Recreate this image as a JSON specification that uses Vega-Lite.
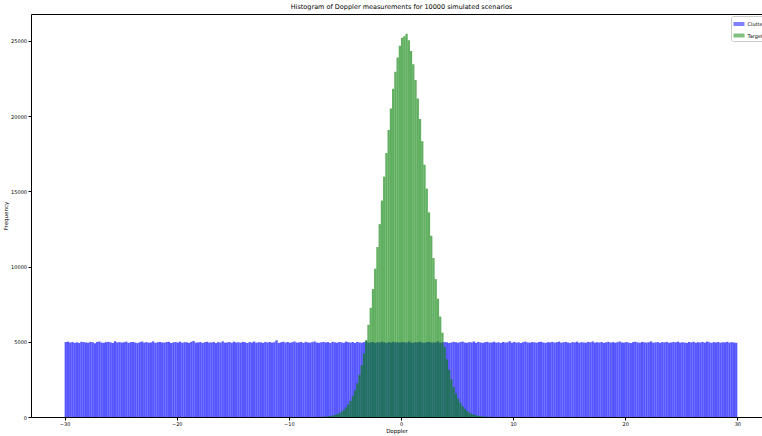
{
"$schema": "https://vega.github.io/schema/vega-lite/v6.json",
"width": 731, "height": 403,
"autosize": {"type": "none"},
"padding": {"left": 31, "top": 14, "right": 0, "bottom": 19},
"config": {
  "font": "DejaVu Sans",
  "view": {"stroke": "black", "strokeWidth": 1},
  "axis": {"grid": false, "domain": false, "tickColor": "black", "tickSize": 3, "labelFontSize": 5, "labelColor": "black", "titleFontSize": 5.5, "titleFontWeight": "normal", "titleColor": "black", "labelPadding": 1.5}
},
"title": {"text": "Histogram of Doppler measurements for 10000 simulated scenarios", "fontSize": 6.5, "fontWeight": "normal", "color": "black", "anchor": "middle", "offset": 4, "dx": 5},
"datasets": {
"clutter": [
{"a":-30,"b":-29.8,"n":4985},{"a":-29.8,"b":-29.6,"n":5012},{"a":-29.6,"b":-29.4,"n":4948},{"a":-29.4,"b":-29.2,"n":4990},{"a":-29.2,"b":-29,"n":4931},{"a":-29,"b":-28.8,"n":4967},{"a":-28.8,"b":-28.6,"n":4920},{"a":-28.6,"b":-28.4,"n":5003},{"a":-28.4,"b":-28.2,"n":4978},{"a":-28.2,"b":-28,"n":4956},
{"a":-28,"b":-27.8,"n":4941},{"a":-27.8,"b":-27.6,"n":4995},{"a":-27.6,"b":-27.4,"n":4972},{"a":-27.4,"b":-27.2,"n":4910},{"a":-27.2,"b":-27,"n":4988},{"a":-27,"b":-26.8,"n":5021},{"a":-26.8,"b":-26.6,"n":4950},{"a":-26.6,"b":-26.4,"n":4936},{"a":-26.4,"b":-26.2,"n":4977},{"a":-26.2,"b":-26,"n":4999},
{"a":-26,"b":-25.8,"n":4962},{"a":-25.8,"b":-25.6,"n":4927},{"a":-25.6,"b":-25.4,"n":5035},{"a":-25.4,"b":-25.2,"n":4958},{"a":-25.2,"b":-25,"n":4983},{"a":-25,"b":-24.8,"n":4945},{"a":-24.8,"b":-24.6,"n":4969},{"a":-24.6,"b":-24.4,"n":5008},{"a":-24.4,"b":-24.2,"n":4933},{"a":-24.2,"b":-24,"n":4974},
{"a":-24,"b":-23.8,"n":4990},{"a":-23.8,"b":-23.6,"n":4952},{"a":-23.6,"b":-23.4,"n":4918},{"a":-23.4,"b":-23.2,"n":4976},{"a":-23.2,"b":-23,"n":5016},{"a":-23,"b":-22.8,"n":4947},{"a":-22.8,"b":-22.6,"n":4981},{"a":-22.6,"b":-22.4,"n":4939},{"a":-22.4,"b":-22.2,"n":4960},{"a":-22.2,"b":-22,"n":5027},
{"a":-22,"b":-21.8,"n":4929},{"a":-21.8,"b":-21.6,"n":4971},{"a":-21.6,"b":-21.4,"n":4993},{"a":-21.4,"b":-21.2,"n":4955},{"a":-21.2,"b":-21,"n":4944},{"a":-21,"b":-20.8,"n":4987},{"a":-20.8,"b":-20.6,"n":5004},{"a":-20.6,"b":-20.4,"n":4921},{"a":-20.4,"b":-20.2,"n":4966},{"a":-20.2,"b":-20,"n":4982},
{"a":-20,"b":-19.8,"n":4950},{"a":-19.8,"b":-19.6,"n":5011},{"a":-19.6,"b":-19.4,"n":4938},{"a":-19.4,"b":-19.2,"n":4975},{"a":-19.2,"b":-19,"n":4968},{"a":-19,"b":-18.8,"n":4930},{"a":-18.8,"b":-18.6,"n":4997},{"a":-18.6,"b":-18.4,"n":5052},{"a":-18.4,"b":-18.2,"n":4943},{"a":-18.2,"b":-18,"n":4958},
{"a":-18,"b":-17.8,"n":4985},{"a":-17.8,"b":-17.6,"n":4926},{"a":-17.6,"b":-17.4,"n":4970},{"a":-17.4,"b":-17.2,"n":5001},{"a":-17.2,"b":-17,"n":4949},{"a":-17,"b":-16.8,"n":4964},{"a":-16.8,"b":-16.6,"n":4990},{"a":-16.6,"b":-16.4,"n":4917},{"a":-16.4,"b":-16.2,"n":4979},{"a":-16.2,"b":-16,"n":4953},
{"a":-16,"b":-15.8,"n":5030},{"a":-15.8,"b":-15.6,"n":4941},{"a":-15.6,"b":-15.4,"n":4960},{"a":-15.4,"b":-15.2,"n":4987},{"a":-15.2,"b":-15,"n":4934},{"a":-15,"b":-14.8,"n":5009},{"a":-14.8,"b":-14.6,"n":4956},{"a":-14.6,"b":-14.4,"n":4972},{"a":-14.4,"b":-14.2,"n":4945},{"a":-14.2,"b":-14,"n":4998},
{"a":-14,"b":-13.8,"n":4968},{"a":-13.8,"b":-13.6,"n":4922},{"a":-13.6,"b":-13.4,"n":4983},{"a":-13.4,"b":-13.2,"n":4951},{"a":-13.2,"b":-13,"n":5015},{"a":-13,"b":-12.8,"n":4940},{"a":-12.8,"b":-12.6,"n":4975},{"a":-12.6,"b":-12.4,"n":4962},{"a":-12.4,"b":-12.2,"n":4930},{"a":-12.2,"b":-12,"n":4993},
{"a":-12,"b":-11.8,"n":4957},{"a":-11.8,"b":-11.6,"n":4989},{"a":-11.6,"b":-11.4,"n":4944},{"a":-11.4,"b":-11.2,"n":4971},{"a":-11.2,"b":-11,"n":5098},{"a":-11,"b":-10.8,"n":4928},{"a":-10.8,"b":-10.6,"n":4966},{"a":-10.6,"b":-10.4,"n":5006},{"a":-10.4,"b":-10.2,"n":4948},{"a":-10.2,"b":-10,"n":4980},
{"a":-10,"b":-9.8,"n":4937},{"a":-9.8,"b":-9.6,"n":4974},{"a":-9.6,"b":-9.4,"n":5019},{"a":-9.4,"b":-9.2,"n":4953},{"a":-9.2,"b":-9,"n":4961},{"a":-9,"b":-8.8,"n":4986},{"a":-8.8,"b":-8.6,"n":4925},{"a":-8.6,"b":-8.4,"n":4996},{"a":-8.4,"b":-8.2,"n":4958},{"a":-8.2,"b":-8,"n":4943},
{"a":-8,"b":-7.8,"n":4979},{"a":-7.8,"b":-7.6,"n":5023},{"a":-7.6,"b":-7.4,"n":4949},{"a":-7.4,"b":-7.2,"n":4932},{"a":-7.2,"b":-7,"n":4970},{"a":-7,"b":-6.8,"n":4991},{"a":-6.8,"b":-6.6,"n":4955},{"a":-6.6,"b":-6.4,"n":4982},{"a":-6.4,"b":-6.2,"n":4919},{"a":-6.2,"b":-6,"n":5002},
{"a":-6,"b":-5.8,"n":4965},{"a":-5.8,"b":-5.6,"n":4946},{"a":-5.6,"b":-5.4,"n":4988},{"a":-5.4,"b":-5.2,"n":4960},{"a":-5.2,"b":-5,"n":4936},{"a":-5,"b":-4.8,"n":5013},{"a":-4.8,"b":-4.6,"n":4972},{"a":-4.6,"b":-4.4,"n":4950},{"a":-4.4,"b":-4.2,"n":4984},{"a":-4.2,"b":-4,"n":4927},
{"a":-4,"b":-3.8,"n":4994},{"a":-3.8,"b":-3.6,"n":4959},{"a":-3.6,"b":-3.4,"n":4940},{"a":-3.4,"b":-3.2,"n":4977},{"a":-3.2,"b":-3,"n":5025},{"a":-3,"b":-2.8,"n":4944},{"a":-2.8,"b":-2.6,"n":4967},{"a":-2.6,"b":-2.4,"n":4989},{"a":-2.4,"b":-2.2,"n":4931},{"a":-2.2,"b":-2,"n":4970},
{"a":-2,"b":-1.8,"n":4952},{"a":-1.8,"b":-1.6,"n":5005},{"a":-1.6,"b":-1.4,"n":4963},{"a":-1.4,"b":-1.2,"n":4923},{"a":-1.2,"b":-1,"n":4981},{"a":-1,"b":-0.8,"n":4947},{"a":-0.8,"b":-0.6,"n":4998},{"a":-0.6,"b":-0.4,"n":4958},{"a":-0.4,"b":-0.2,"n":4975},{"a":-0.2,"b":0,"n":4938},
{"a":0,"b":0.2,"n":4986},{"a":0.2,"b":0.4,"n":4969},{"a":0.4,"b":0.6,"n":4942},{"a":0.6,"b":0.8,"n":5017},{"a":0.8,"b":1,"n":4955},{"a":1,"b":1.2,"n":4928},{"a":1.2,"b":1.4,"n":4980},{"a":1.4,"b":1.6,"n":4964},{"a":1.6,"b":1.8,"n":5001},{"a":1.8,"b":2,"n":4949},
{"a":2,"b":2.2,"n":4933},{"a":2.2,"b":2.4,"n":4976},{"a":2.4,"b":2.6,"n":4991},{"a":2.6,"b":2.8,"n":4957},{"a":2.8,"b":3,"n":4945},{"a":3,"b":3.2,"n":4972},{"a":3.2,"b":3.4,"n":5029},{"a":3.4,"b":3.6,"n":4936},{"a":3.6,"b":3.8,"n":4961},{"a":3.8,"b":4,"n":4984},
{"a":4,"b":4.2,"n":4970},{"a":4.2,"b":4.4,"n":4924},{"a":4.4,"b":4.6,"n":4958},{"a":4.6,"b":4.8,"n":4999},{"a":4.8,"b":5,"n":4967},{"a":5,"b":5.2,"n":4941},{"a":5.2,"b":5.4,"n":4983},{"a":5.4,"b":5.6,"n":5010},{"a":5.6,"b":5.8,"n":4952},{"a":5.8,"b":6,"n":4939},
{"a":6,"b":6.2,"n":4978},{"a":6.2,"b":6.4,"n":4962},{"a":6.4,"b":6.6,"n":5020},{"a":6.6,"b":6.8,"n":4935},{"a":6.8,"b":7,"n":4988},{"a":7,"b":7.2,"n":4956},{"a":7.2,"b":7.4,"n":4930},{"a":7.4,"b":7.6,"n":4974},{"a":7.6,"b":7.8,"n":4995},{"a":7.8,"b":8,"n":4946},
{"a":8,"b":8.2,"n":4960},{"a":8.2,"b":8.4,"n":5003},{"a":8.4,"b":8.6,"n":4944},{"a":8.6,"b":8.8,"n":4971},{"a":8.8,"b":9,"n":4926},{"a":9,"b":9.2,"n":4985},{"a":9.2,"b":9.4,"n":4953},{"a":9.4,"b":9.6,"n":4968},{"a":9.6,"b":9.8,"n":5036},{"a":9.8,"b":10,"n":4940},
{"a":10,"b":10.2,"n":4992},{"a":10.2,"b":10.4,"n":4949},{"a":10.4,"b":10.6,"n":4964},{"a":10.6,"b":10.8,"n":4918},{"a":10.8,"b":11,"n":4977},{"a":11,"b":11.2,"n":5011},{"a":11.2,"b":11.4,"n":4959},{"a":11.4,"b":11.6,"n":4942},{"a":11.6,"b":11.8,"n":4981},{"a":11.8,"b":12,"n":4966},
{"a":12,"b":12.2,"n":4937},{"a":12.2,"b":12.4,"n":4983},{"a":12.4,"b":12.6,"n":5000},{"a":12.6,"b":12.8,"n":4954},{"a":12.8,"b":13,"n":4931},{"a":13,"b":13.2,"n":4975},{"a":13.2,"b":13.4,"n":4962},{"a":13.4,"b":13.6,"n":4996},{"a":13.6,"b":13.8,"n":4948},{"a":13.8,"b":14,"n":4972},
{"a":14,"b":14.2,"n":5014},{"a":14.2,"b":14.4,"n":4943},{"a":14.4,"b":14.6,"n":4967},{"a":14.6,"b":14.8,"n":4989},{"a":14.8,"b":15,"n":4952},{"a":15,"b":15.2,"n":4925},{"a":15.2,"b":15.4,"n":4980},{"a":15.4,"b":15.6,"n":4961},{"a":15.6,"b":15.8,"n":5007},{"a":15.8,"b":16,"n":4934},
{"a":16,"b":16.2,"n":4976},{"a":16.2,"b":16.4,"n":4957},{"a":16.4,"b":16.6,"n":4939},{"a":16.6,"b":16.8,"n":4993},{"a":16.8,"b":17,"n":4969},{"a":17,"b":17.2,"n":5022},{"a":17.2,"b":17.4,"n":4946},{"a":17.4,"b":17.6,"n":4973},{"a":17.6,"b":17.8,"n":4955},{"a":17.8,"b":18,"n":4987},
{"a":18,"b":18.2,"n":4929},{"a":18.2,"b":18.4,"n":4964},{"a":18.4,"b":18.6,"n":4998},{"a":18.6,"b":18.8,"n":4950},{"a":18.8,"b":19,"n":4982},{"a":19,"b":19.2,"n":4940},{"a":19.2,"b":19.4,"n":4971},{"a":19.4,"b":19.6,"n":5018},{"a":19.6,"b":19.8,"n":4958},{"a":19.8,"b":20,"n":4944},
{"a":20,"b":20.2,"n":4987},{"a":20.2,"b":20.4,"n":4953},{"a":20.4,"b":20.6,"n":4920},{"a":20.6,"b":20.8,"n":4977},{"a":20.8,"b":21,"n":5004},{"a":21,"b":21.2,"n":4962},{"a":21.2,"b":21.4,"n":4935},{"a":21.4,"b":21.6,"n":4990},{"a":21.6,"b":21.8,"n":4966},{"a":21.8,"b":22,"n":4949},
{"a":22,"b":22.2,"n":4970},{"a":22.2,"b":22.4,"n":5027},{"a":22.4,"b":22.6,"n":4945},{"a":22.6,"b":22.8,"n":4958},{"a":22.8,"b":23,"n":4984},{"a":23,"b":23.2,"n":4931},{"a":23.2,"b":23.4,"n":4979},{"a":23.4,"b":23.6,"n":4961},{"a":23.6,"b":23.8,"n":4996},{"a":23.8,"b":24,"n":4938},
{"a":24,"b":24.2,"n":4955},{"a":24.2,"b":24.4,"n":4981},{"a":24.4,"b":24.6,"n":4967},{"a":24.6,"b":24.8,"n":5009},{"a":24.8,"b":25,"n":4942},{"a":25,"b":25.2,"n":4974},{"a":25.2,"b":25.4,"n":4950},{"a":25.4,"b":25.6,"n":4927},{"a":25.6,"b":25.8,"n":4988},{"a":25.8,"b":26,"n":4963},
{"a":26,"b":26.2,"n":5001},{"a":26.2,"b":26.4,"n":4936},{"a":26.4,"b":26.6,"n":4972},{"a":26.6,"b":26.8,"n":4957},{"a":26.8,"b":27,"n":4993},{"a":27,"b":27.2,"n":4946},{"a":27.2,"b":27.4,"n":5015},{"a":27.4,"b":27.6,"n":4968},{"a":27.6,"b":27.8,"n":4933},{"a":27.8,"b":28,"n":4979},
{"a":28,"b":28.2,"n":4958},{"a":28.2,"b":28.4,"n":4985},{"a":28.4,"b":28.6,"n":4940},{"a":28.6,"b":28.8,"n":4971},{"a":28.8,"b":29,"n":4962},{"a":29,"b":29.2,"n":4997},{"a":29.2,"b":29.4,"n":4947},{"a":29.4,"b":29.6,"n":4976},{"a":29.6,"b":29.8,"n":4953},{"a":29.8,"b":30,"n":4930}
],
"target": [
{"a":-7.6,"b":-7.4,"n":6},{"a":-7.4,"b":-7.2,"n":10},{"a":-7.2,"b":-7,"n":15},{"a":-7,"b":-6.8,"n":22},{"a":-6.8,"b":-6.6,"n":32},{"a":-6.6,"b":-6.4,"n":47},{"a":-6.4,"b":-6.2,"n":67},{"a":-6.2,"b":-6,"n":95},{"a":-6,"b":-5.8,"n":134},{"a":-5.8,"b":-5.6,"n":186},
{"a":-5.6,"b":-5.4,"n":256},{"a":-5.4,"b":-5.2,"n":349},{"a":-5.2,"b":-5,"n":470},{"a":-5,"b":-4.8,"n":626},{"a":-4.8,"b":-4.6,"n":825},{"a":-4.6,"b":-4.4,"n":1076},{"a":-4.4,"b":-4.2,"n":1389},{"a":-4.2,"b":-4,"n":1773},{"a":-4,"b":-3.8,"n":2240},{"a":-3.8,"b":-3.6,"n":2799},
{"a":-3.6,"b":-3.4,"n":3459},{"a":-3.4,"b":-3.2,"n":4232},{"a":-3.2,"b":-3,"n":5121},{"a":-3,"b":-2.8,"n":6129},{"a":-2.8,"b":-2.6,"n":7258},{"a":-2.6,"b":-2.4,"n":8504},{"a":-2.4,"b":-2.2,"n":9857},{"a":-2.2,"b":-2,"n":11303},{"a":-2,"b":-1.8,"n":12823},{"a":-1.8,"b":-1.6,"n":14393},
{"a":-1.6,"b":-1.4,"n":15981},{"a":-1.4,"b":-1.2,"n":17555},{"a":-1.2,"b":-1,"n":19079},{"a":-1,"b":-0.8,"n":20513},{"a":-0.8,"b":-0.6,"n":21820},{"a":-0.6,"b":-0.4,"n":22962},{"a":-0.4,"b":-0.2,"n":23905},{"a":-0.2,"b":0,"n":24690},{"a":0,"b":0.2,"n":25210},{"a":0.2,"b":0.4,"n":25310},
{"a":0.4,"b":0.6,"n":25480},{"a":0.6,"b":0.8,"n":25050},{"a":0.8,"b":1,"n":24340},{"a":1,"b":1.2,"n":23460},{"a":1.2,"b":1.4,"n":22414},{"a":1.4,"b":1.6,"n":21185},{"a":1.6,"b":1.8,"n":19809},{"a":1.8,"b":2,"n":18326},{"a":2,"b":2.2,"n":16772},{"a":2.2,"b":2.4,"n":15187},
{"a":2.4,"b":2.6,"n":13604},{"a":2.6,"b":2.8,"n":12055},{"a":2.8,"b":3,"n":10569},{"a":3,"b":3.2,"n":9168},{"a":3.2,"b":3.4,"n":7867},{"a":3.4,"b":3.6,"n":6679},{"a":3.6,"b":3.8,"n":5609},{"a":3.8,"b":4,"n":4661},{"a":4,"b":4.2,"n":3832},{"a":4.2,"b":4.4,"n":3116},
{"a":4.4,"b":4.6,"n":2507},{"a":4.6,"b":4.8,"n":1995},{"a":4.8,"b":5,"n":1571},{"a":5,"b":5.2,"n":1224},{"a":5.2,"b":5.4,"n":943},{"a":5.4,"b":5.6,"n":719},{"a":5.6,"b":5.8,"n":543},{"a":5.8,"b":6,"n":405},{"a":6,"b":6.2,"n":299},{"a":6.2,"b":6.4,"n":219},
{"a":6.4,"b":6.6,"n":158},{"a":6.6,"b":6.8,"n":113},{"a":6.8,"b":7,"n":80},{"a":7,"b":7.2,"n":56},{"a":7.2,"b":7.4,"n":39},{"a":7.4,"b":7.6,"n":27},{"a":7.6,"b":7.8,"n":18},{"a":7.8,"b":8,"n":12},{"a":8,"b":8.2,"n":8},{"a":8.2,"b":8.4,"n":5}
]
},
"encoding": {
  "x": {"field": "a", "type": "quantitative", "title": "Doppler",
        "scale": {"domain": [-33, 32.2], "nice": false, "zero": false},
        "axis": {"values": [-30, -20, -10, 0, 10, 20, 30], "labelExpr": "replace(datum.label, '-', '\u2212')", "titlePadding": 1.5}},
  "x2": {"field": "b"},
  "y": {"field": "n", "type": "quantitative", "title": "Frequency",
        "scale": {"domain": [0, 26795], "nice": false},
        "axis": {"values": [0, 5000, 10000, 15000, 20000, 25000], "format": "d", "titlePadding": 2}},
  "y2": {"datum": 0},
  "color": {"datum": "Clutter", "type": "nominal",
            "scale": {"domain": ["Clutter", "Target"], "range": ["#0000ff", "#008000"]},
            "legend": {"title": null, "orient": "none", "legendX": 700, "legendY": 2,
                       "fillColor": "white", "strokeColor": "#cccccc", "cornerRadius": 2, "padding": 2.5,
                       "symbolType": "M-1,-0.36H1V0.36H-1Z", "symbolSize": 121, "symbolOpacity": 0.5, "symbolStrokeWidth": 0,
                       "labelFontSize": 5, "labelColor": "black", "rowPadding": 2.5, "labelOffset": 3}}
},
"layer": [
  {"data": {"name": "clutter"}, "mark": {"type": "rect", "opacity": 0.66}},
  {"data": {"name": "target"}, "mark": {"type": "rect", "opacity": 0.62}, "encoding": {"color": {"datum": "Target", "type": "nominal"}}}
]
}
